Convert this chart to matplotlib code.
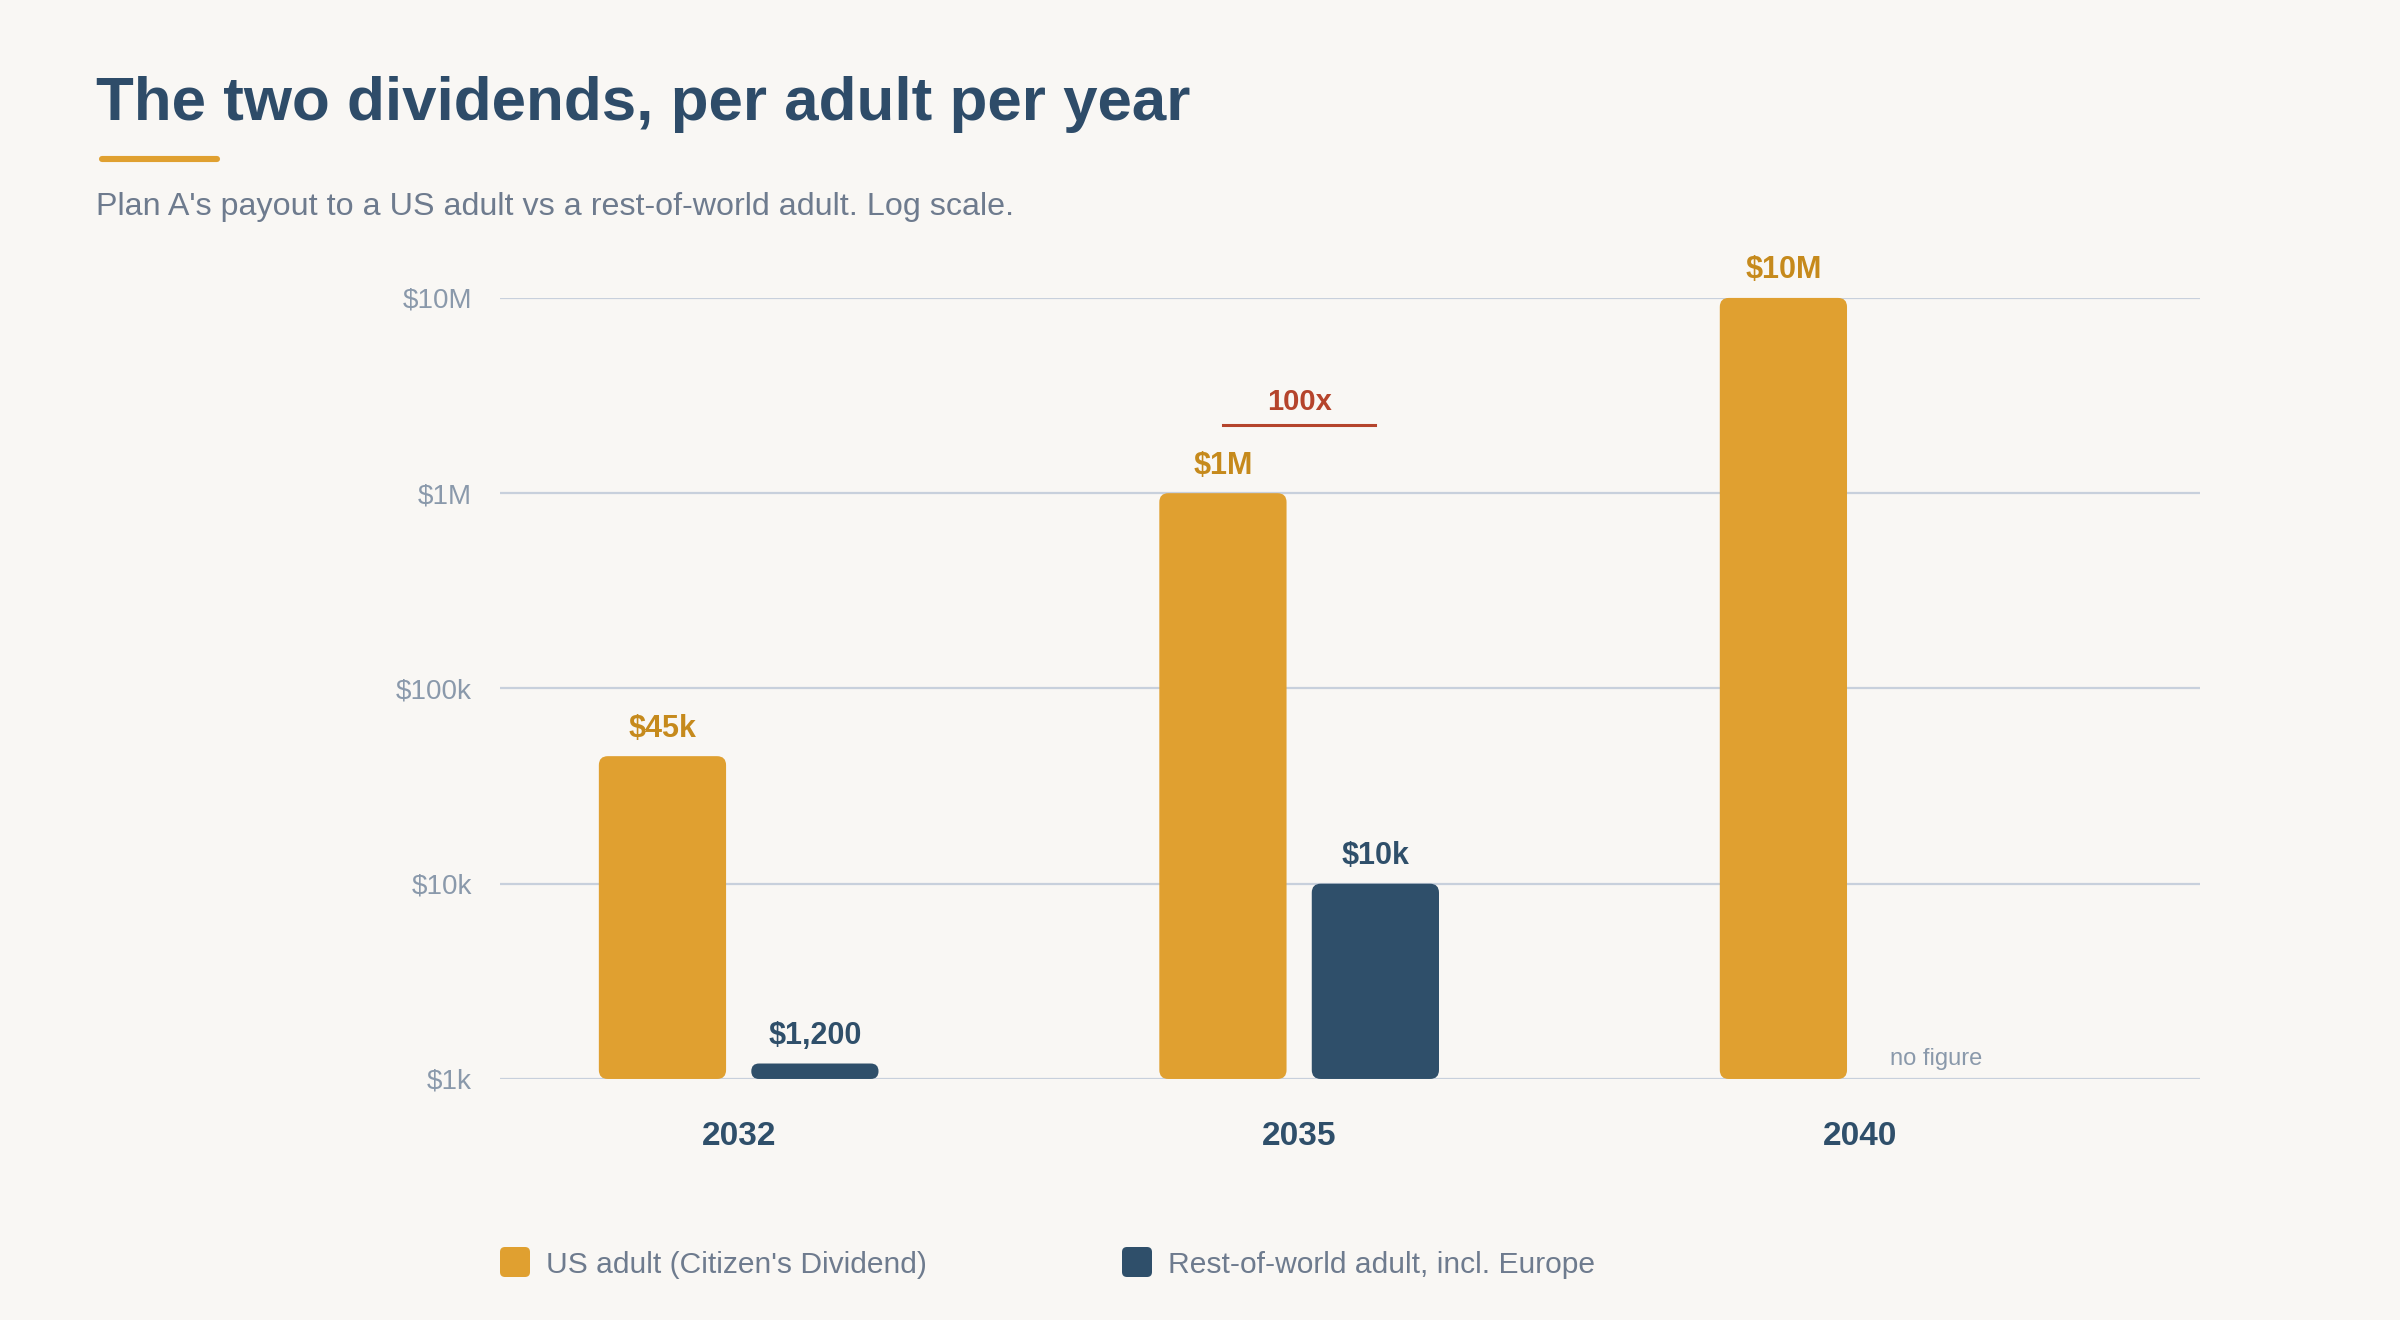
import numpy as np
import matplotlib.pyplot as plt
from matplotlib.patches import FancyBboxPatch
from matplotlib.lines import Line2D
from matplotlib.transforms import IdentityTransform

# data
years = ['2032', '2035', '2040']
us_adult = [45000, 1000000, 10000000]
row_adult = [1200, 10000, np.nan]
us_labels = ['$45k', '$1M', '$10M']
row_labels = ['$1,200', '$10k', 'no figure']
series_names = ["US adult (Citizen's Dividend)", 'Rest-of-world adult, incl. Europe']
yticks = [1e3, 1e4, 1e5, 1e6, 1e7]
ytick_labels = ['$1k', '$10k', '$100k', '$1M', '$10M']

BG = '#F9F7F4'
ORANGE = '#E0A030'
ORANGE_TXT = '#C68A1C'
NAVY = '#2F4F6A'
RED = '#B5442C'
GRID = '#C8D0DC'
TICK = '#8A99AB'
SUB = '#6E7B8E'

plt.rcParams['font.family'] = ['Liberation Sans', 'DejaVu Sans']

fig = plt.figure(figsize=(12, 6.6), dpi=200, facecolor=BG)
ax = fig.add_axes([0.2083, 0.1826, 0.7083, 0.5917])
ax.set_facecolor(BG)
ax.set_yscale('log')
ax.set_ylim(1e3, 1e7)
ax.set_xlim(-0.426, 2.607)

x = np.arange(len(years))
off = 0.136
w = 0.227
base = 1000

b1 = ax.bar(x - off, np.array(us_adult) - base, bottom=base, width=w, color=ORANGE)
b2 = ax.bar(x + off, np.array(row_adult) - base, bottom=base, width=w, color=NAVY)

# grid
ax.set_yticks(yticks)
ax.set_yticklabels(ytick_labels)
ax.minorticks_off()
ax.yaxis.grid(True, color=GRID, lw=0.8)
ax.set_axisbelow(True)
for s in ax.spines.values():
    s.set_visible(False)
ax.tick_params(axis='y', length=0, pad=10, labelsize=10, labelcolor=TICK)
ax.set_xticks(x)
ax.set_xticklabels(years, fontsize=12, fontweight='bold', color=NAVY)
ax.tick_params(axis='x', length=0, pad=15)

# swap bars for rounded ones, in pixel space
for bars in (b1, b2):
    for r in bars:
        h = r.get_height()
        if not np.isfinite(h):
            continue
        (x0, y0), (x1, y1) = ax.transData.transform(
            [(r.get_x(), r.get_y()), (r.get_x() + r.get_width(), r.get_y() + h)])
        rad = min(9, (y1 - y0) / 2)
        p = FancyBboxPatch((x0, y0), x1 - x0, y1 - y0,
                           boxstyle=f'round,pad=0,rounding_size={rad}',
                           transform=IdentityTransform(), fc=r.get_facecolor(),
                           ec='none', zorder=3)
        fig.add_artist(p)
        r.set_visible(False)

# value labels
for i in range(len(years)):
    ax.annotate(us_labels[i], (x[i] - off, us_adult[i]), xytext=(0, 7),
                textcoords='offset points', ha='center', va='baseline',
                fontsize=11, fontweight='bold', color=ORANGE_TXT, annotation_clip=False)
    if np.isfinite(row_adult[i]):
        ax.annotate(row_labels[i], (x[i] + off, row_adult[i]), xytext=(0, 7),
                    textcoords='offset points', ha='center', va='baseline',
                    fontsize=11, fontweight='bold', color=NAVY, annotation_clip=False)
    else:
        ax.annotate(row_labels[i], (x[i] + off, base), xytext=(0, 5),
                    textcoords='offset points', ha='center', va='baseline',
                    fontsize=8.5, color=TICK, annotation_clip=False)

# 100x gap marker over 2035
y_line = ax.transData.transform((1, us_adult[1]))[1] + 68
xa = ax.transData.transform((1 - off, us_adult[1]))[0]
xb = ax.transData.transform((1 + off, us_adult[1]))[0]
fig.add_artist(Line2D([xa, xb], [y_line, y_line], color=RED, lw=1.1,
                      transform=IdentityTransform()))
ratio = us_adult[1] / row_adult[1]
ax.annotate(f'{ratio:.0f}x', (1, us_adult[1]), xytext=(0, 30), textcoords='offset points',
            ha='center', va='baseline', fontsize=10.5, fontweight='bold', color=RED,
            annotation_clip=False)

# title block
fig.text(0.04, 0.9091, 'The two dividends, per adult per year', fontsize=22.3,
         fontweight='bold', color='#2E4C69', va='baseline')
fig.add_artist(Line2D([0.0425, 0.0905], [0.8795, 0.8795], color=ORANGE, lw=2.2,
                      solid_capstyle='round', transform=fig.transFigure))
fig.text(0.04, 0.837, "Plan A's payout to a US adult vs a rest-of-world adult. Log scale.",
         fontsize=11.6, color=SUB, va='baseline')

# legend
leg_x = [500, 1122]
for lx, name, col in zip(leg_x, series_names, [ORANGE, NAVY]):
    fig.add_artist(FancyBboxPatch((lx, 1320 - 1262 - 15), 30, 30,
                                  boxstyle='round,pad=0,rounding_size=5',
                                  transform=IdentityTransform(), fc=col, ec='none'))
    fig.text((lx + 46) / 2400, (1320 - 1265) / 1320, name, fontsize=10.8,
             color=SUB, va='center')

fig.savefig('out.png', dpi=200, facecolor=BG)
